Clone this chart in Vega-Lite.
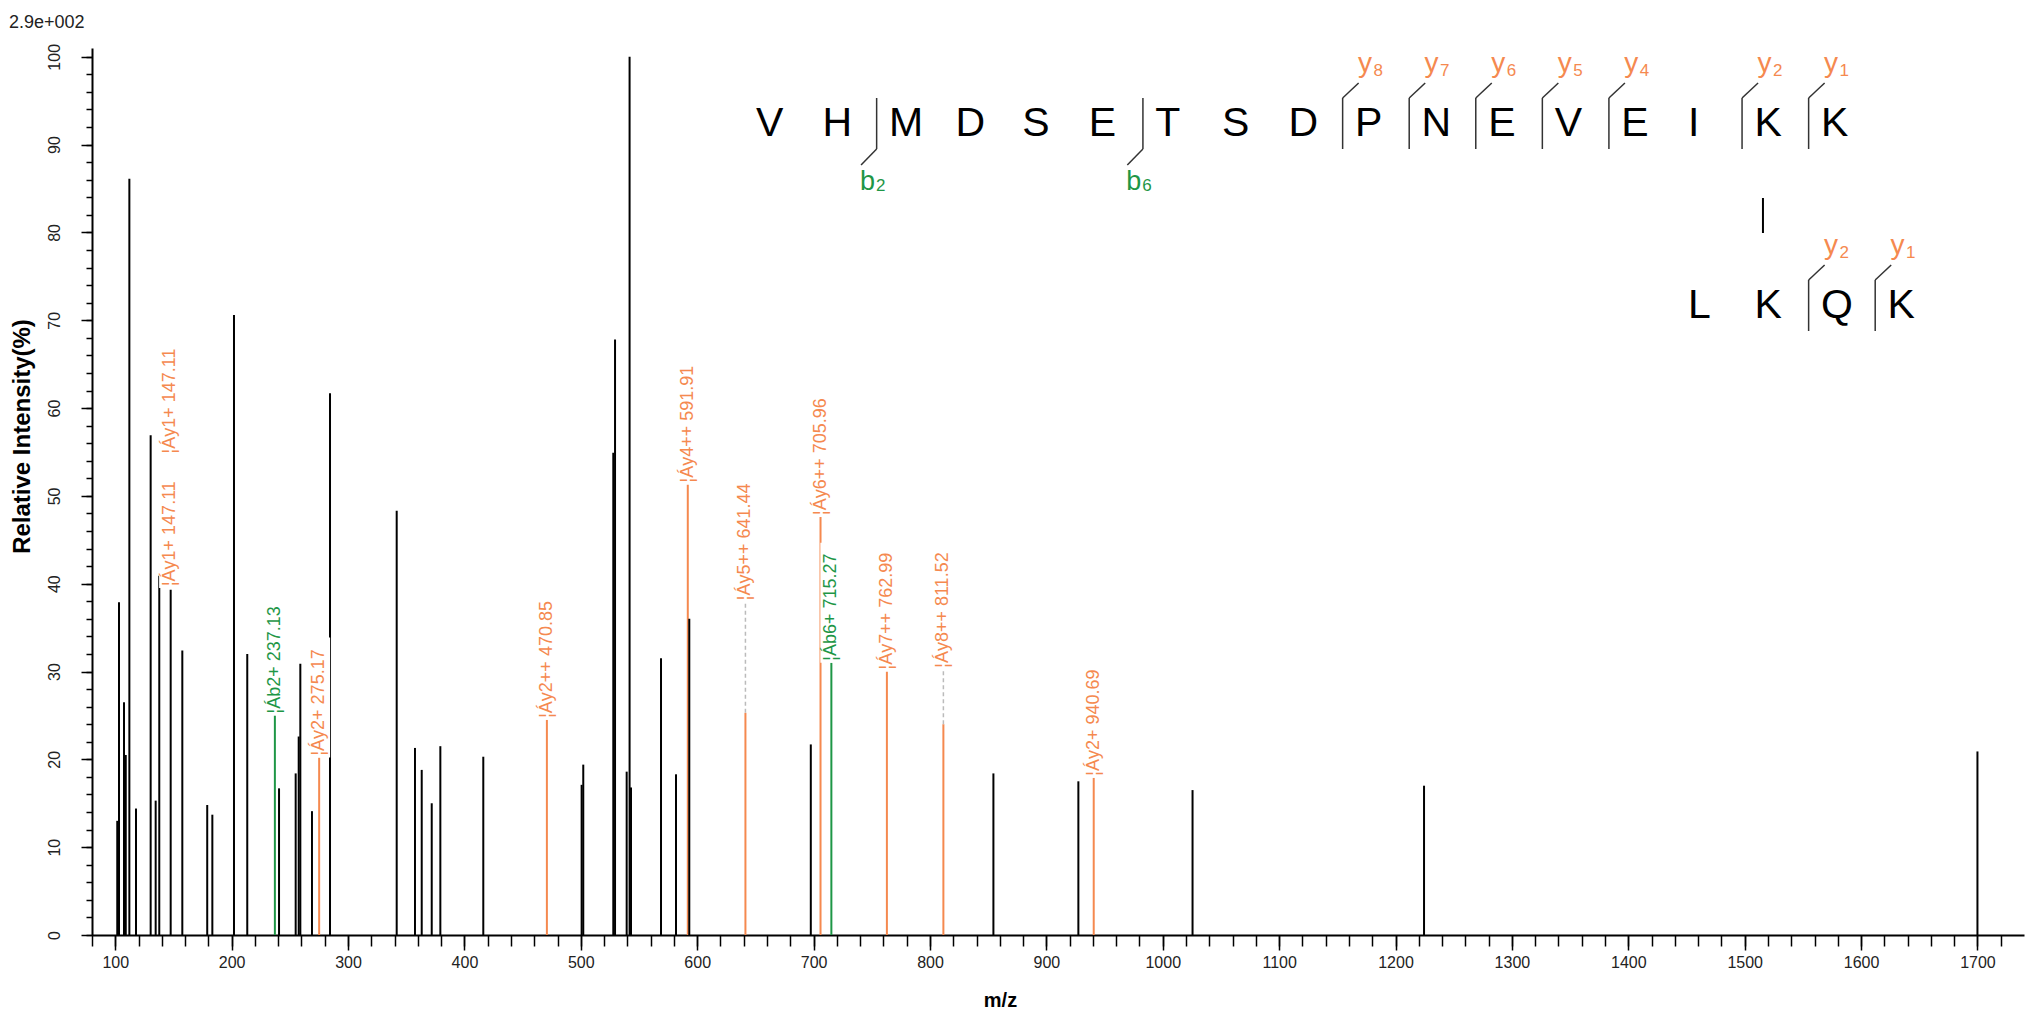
{
  "$schema": "https://vega.github.io/schema/vega-lite/v6.json",
  "width": 1932,
  "height": 887,
  "autosize": {"type": "none"},
  "padding": {"left": 92, "top": 48, "right": 4, "bottom": 78},
  "background": "white",
  "config": {"view": {"stroke": null}, "font": "Liberation Sans"},
  "title": {"text": "2.9e+002", "anchor": "start", "frame": "group", "dx": -83, "offset": 11, "fontSize": 18, "fontWeight": "normal", "font": "Liberation Sans", "color": "#222222"},
  "datasets": {
    "peaks": [
      {"mz": 101.7, "intensity": 13.0, "ion": "other"},
      {"mz": 103.2, "intensity": 37.9, "ion": "other"},
      {"mz": 107.5, "intensity": 26.5, "ion": "other"},
      {"mz": 109.0, "intensity": 20.5, "ion": "other"},
      {"mz": 112.1, "intensity": 86.1, "ion": "other"},
      {"mz": 117.8, "intensity": 14.4, "ion": "other"},
      {"mz": 130.4, "intensity": 56.9, "ion": "other"},
      {"mz": 134.7, "intensity": 15.3, "ion": "other"},
      {"mz": 137.8, "intensity": 40.9, "ion": "other"},
      {"mz": 147.6, "intensity": 39.3, "ion": "other"},
      {"mz": 157.6, "intensity": 32.4, "ion": "other"},
      {"mz": 179.0, "intensity": 14.8, "ion": "other"},
      {"mz": 183.4, "intensity": 13.7, "ion": "other"},
      {"mz": 202.0, "intensity": 70.6, "ion": "other"},
      {"mz": 213.4, "intensity": 32.0, "ion": "other"},
      {"mz": 237.13, "intensity": 25.0, "ion": "b"},
      {"mz": 240.7, "intensity": 16.7, "ion": "other"},
      {"mz": 255.0, "intensity": 18.4, "ion": "other"},
      {"mz": 257.6, "intensity": 22.6, "ion": "other"},
      {"mz": 259.0, "intensity": 30.9, "ion": "other"},
      {"mz": 269.0, "intensity": 14.1, "ion": "other"},
      {"mz": 275.17, "intensity": 20.2, "ion": "y"},
      {"mz": 284.5, "intensity": 61.7, "ion": "other"},
      {"mz": 341.8, "intensity": 48.3, "ion": "other"},
      {"mz": 357.5, "intensity": 21.3, "ion": "other"},
      {"mz": 363.3, "intensity": 18.8, "ion": "other"},
      {"mz": 371.9, "intensity": 15.0, "ion": "other"},
      {"mz": 379.3, "intensity": 21.5, "ion": "other"},
      {"mz": 416.2, "intensity": 20.3, "ion": "other"},
      {"mz": 470.85, "intensity": 24.5, "ion": "y"},
      {"mz": 500.7, "intensity": 17.1, "ion": "other"},
      {"mz": 502.1, "intensity": 19.4, "ion": "other"},
      {"mz": 527.9, "intensity": 54.9, "ion": "other"},
      {"mz": 529.4, "intensity": 67.8, "ion": "other"},
      {"mz": 539.4, "intensity": 18.6, "ion": "other"},
      {"mz": 541.9, "intensity": 100.0, "ion": "other"},
      {"mz": 543.1, "intensity": 16.8, "ion": "other"},
      {"mz": 568.9, "intensity": 31.5, "ion": "other"},
      {"mz": 581.8, "intensity": 18.3, "ion": "other"},
      {"mz": 591.91, "intensity": 51.3, "ion": "y"},
      {"mz": 593.2, "intensity": 36.0, "ion": "other"},
      {"mz": 641.44, "intensity": 25.3, "ion": "y"},
      {"mz": 697.6, "intensity": 21.7, "ion": "other"},
      {"mz": 705.96, "intensity": 47.6, "ion": "y"},
      {"mz": 715.27, "intensity": 31.0, "ion": "b"},
      {"mz": 762.99, "intensity": 30.0, "ion": "y"},
      {"mz": 811.52, "intensity": 24.0, "ion": "y"},
      {"mz": 854.5, "intensity": 18.4, "ion": "other"},
      {"mz": 927.5, "intensity": 17.5, "ion": "other"},
      {"mz": 940.69, "intensity": 17.9, "ion": "y"},
      {"mz": 1025.6, "intensity": 16.5, "ion": "other"},
      {"mz": 1224.5, "intensity": 17.0, "ion": "other"},
      {"mz": 1700.0, "intensity": 20.9, "ion": "other"}
    ],
    "labels": [
      {"mz": 147.11, "anchor": 39.5, "base": 39.5, "text": "¦Áy1+ 147.11", "ion": "y"},
      {"mz": 147.11, "anchor": 54.6, "base": 54.6, "text": "¦Áy1+ 147.11", "ion": "y"},
      {"mz": 237.13, "anchor": 25.0, "base": 25.0, "text": "¦Áb2+ 237.13", "ion": "b"},
      {"mz": 275.17, "anchor": 20.2, "base": 20.2, "text": "¦Áy2+ 275.17", "ion": "y"},
      {"mz": 470.85, "anchor": 24.5, "base": 24.5, "text": "¦Áy2++ 470.85", "ion": "y"},
      {"mz": 591.91, "anchor": 51.3, "base": 51.3, "text": "¦Áy4++ 591.91", "ion": "y"},
      {"mz": 641.44, "anchor": 25.3, "base": 37.9, "text": "¦Áy5++ 641.44", "ion": "y"},
      {"mz": 705.96, "anchor": 47.6, "base": 47.6, "text": "¦Áy6++ 705.96", "ion": "y"},
      {"mz": 715.27, "anchor": 31.0, "base": 31.0, "text": "¦Áb6+ 715.27", "ion": "b"},
      {"mz": 762.99, "anchor": 30.0, "base": 30.0, "text": "¦Áy7++ 762.99", "ion": "y"},
      {"mz": 811.52, "anchor": 24.0, "base": 30.2, "text": "¦Áy8++ 811.52", "ion": "y"},
      {"mz": 940.69, "anchor": 17.9, "base": 17.9, "text": "¦Áy2+ 940.69", "ion": "y"}
    ],
    "seq": [
      {"i": 0, "aa": "V", "row": 1}, {"i": 1, "aa": "H", "row": 1}, {"i": 2, "aa": "M", "row": 1},
      {"i": 3, "aa": "D", "row": 1}, {"i": 4, "aa": "S", "row": 1}, {"i": 5, "aa": "E", "row": 1},
      {"i": 6, "aa": "T", "row": 1}, {"i": 7, "aa": "S", "row": 1}, {"i": 8, "aa": "D", "row": 1},
      {"i": 9, "aa": "P", "row": 1}, {"i": 10, "aa": "N", "row": 1}, {"i": 11, "aa": "E", "row": 1},
      {"i": 12, "aa": "V", "row": 1}, {"i": 13, "aa": "E", "row": 1}, {"i": 14, "aa": "I", "row": 1},
      {"i": 15, "aa": "K", "row": 1}, {"i": 16, "aa": "K", "row": 1},
      {"i": 14, "aa": "L", "row": 2}, {"i": 15, "aa": "K", "row": 2}, {"i": 16, "aa": "Q", "row": 2},
      {"i": 17, "aa": "K", "row": 2}
    ],
    "ions": [
      {"i": 2, "ion": "b", "n": 2, "row": 1},
      {"i": 6, "ion": "b", "n": 6, "row": 1},
      {"i": 9, "ion": "y", "n": 8, "row": 1},
      {"i": 10, "ion": "y", "n": 7, "row": 1},
      {"i": 11, "ion": "y", "n": 6, "row": 1},
      {"i": 12, "ion": "y", "n": 5, "row": 1},
      {"i": 13, "ion": "y", "n": 4, "row": 1},
      {"i": 15, "ion": "y", "n": 2, "row": 1},
      {"i": 16, "ion": "y", "n": 1, "row": 1},
      {"i": 16, "ion": "y", "n": 2, "row": 2},
      {"i": 17, "ion": "y", "n": 1, "row": 2}
    ]
  },
  "layer": [
    {
      "layer": [
        {
          "data": {"name": "peaks"},
          "mark": {"type": "rule", "strokeWidth": 2},
          "encoding": {
            "x": {"field": "mz", "type": "quantitative",
              "scale": {"domain": [80, 1740], "nice": false, "zero": false},
              "axis": {"orient": "bottom", "values": [100, 200, 300, 400, 500, 600, 700, 800, 900, 1000, 1100, 1200, 1300, 1400, 1500, 1600, 1700],
                "format": "d",
                "tickSize": 15, "tickWidth": 1.5, "tickColor": "#000000", "domainColor": "#000000", "domainWidth": 2,
                "labelFontSize": 16, "labelFont": "Liberation Sans", "labelColor": "#222222", "labelPadding": 4,
                "labelFlush": false, "labelOverlap": false, "grid": false,
                "title": "m/z", "titleFont": "Liberation Sans", "titleFontSize": 20, "titleFontWeight": "bold", "titleColor": "#000000",
                "titleX": 908, "titleY": 65, "titleAlign": "center", "titleBaseline": "middle"}},
            "y": {"field": "intensity", "type": "quantitative",
              "scale": {"domain": [0, 101], "nice": false, "zero": false},
              "axis": {"orient": "left", "values": [0, 10, 20, 30, 40, 50, 60, 70, 80, 90, 100],
                "tickSize": 11, "tickWidth": 1.5, "tickColor": "#000000", "domainColor": "#000000", "domainWidth": 2,
                "labelAngle": 270, "labelAlign": "center", "labelBaseline": "alphabetic", "labelPadding": 22,
                "labelFontSize": 16, "labelFont": "Liberation Sans", "labelColor": "#222222", "labelOverlap": false, "grid": false,
                "title": "Relative  Intensity(%)", "titleFont": "Liberation Sans", "titleFontSize": 24, "titleFontWeight": "bold", "titleColor": "#000000",
                "titleAngle": 270, "titleX": -70, "titleY": 388, "titleAlign": "center", "titleBaseline": "middle"}},
            "y2": {"datum": 0},
            "color": {"field": "ion", "type": "nominal",
              "scale": {"domain": ["other", "y", "b"], "range": ["#000000", "#F5894F", "#1E9646"]}, "legend": null}
          }
        },
        {
          "data": {"name": "labels"},
          "transform": [{"filter": "datum.base > datum.anchor + 0.5"}],
          "mark": {"type": "rule", "strokeWidth": 1.5, "strokeDash": [4, 3], "color": "#BBBBBB"},
          "encoding": {
            "x": {"field": "mz", "type": "quantitative",
              "axis": {"orient": "bottom", "values": [80, 100, 120, 140, 160, 180, 200, 220, 240, 260, 280, 300, 320, 340, 360, 380, 400, 420, 440, 460, 480, 500, 520, 540, 560, 580, 600, 620, 640, 660, 680, 700, 720, 740, 760, 780, 800, 820, 840, 860, 880, 900, 920, 940, 960, 980, 1000, 1020, 1040, 1060, 1080, 1100, 1120, 1140, 1160, 1180, 1200, 1220, 1240, 1260, 1280, 1300, 1320, 1340, 1360, 1380, 1400, 1420, 1440, 1460, 1480, 1500, 1520, 1540, 1560, 1580, 1600, 1620, 1640, 1660, 1680, 1700, 1720],
                "tickSize": 11, "tickWidth": 1.5, "tickColor": "#000000", "domain": false, "labels": false, "grid": false, "title": null}},
            "y": {"field": "anchor", "type": "quantitative",
              "axis": {"orient": "left", "values": [0, 2, 4, 6, 8, 10, 12, 14, 16, 18, 20, 22, 24, 26, 28, 30, 32, 34, 36, 38, 40, 42, 44, 46, 48, 50, 52, 54, 56, 58, 60, 62, 64, 66, 68, 70, 72, 74, 76, 78, 80, 82, 84, 86, 88, 90, 92, 94, 96, 98, 100],
                "tickSize": 6, "tickWidth": 1.5, "tickColor": "#000000", "domain": false, "labels": false, "grid": false, "title": null}},
            "y2": {"field": "base"}
          }
        },
        {
          "data": {"name": "labels"},
          "mark": {"type": "rect", "color": "#FFFFFF", "xOffset": -11, "x2Offset": 11, "y2Offset": -120},
          "encoding": {
            "x": {"field": "mz", "type": "quantitative", "axis": null},
            "x2": {"field": "mz"},
            "y": {"field": "base", "type": "quantitative", "axis": null},
            "y2": {"field": "base"}
          }
        },
        {
          "data": {"name": "labels"},
          "mark": {"type": "text", "angle": 270, "align": "left", "baseline": "middle", "fontSize": 18, "font": "Liberation Sans", "dx": 2},
          "encoding": {
            "x": {"field": "mz", "type": "quantitative", "axis": null},
            "y": {"field": "base", "type": "quantitative", "axis": null},
            "text": {"field": "text"},
            "color": {"field": "ion", "type": "nominal", "legend": null}
          }
        }
      ],
      "resolve": {"axis": {"x": "independent", "y": "independent"}}
    },
    {
      "encoding": {
        "x": {"field": "i", "type": "quantitative", "axis": null,
          "scale": {"domain": [-9.973, 19.049], "nice": false, "zero": false}},
        "y": {"field": "row", "type": "quantitative", "axis": null,
          "scale": {"domain": [0.51648, 5.39011], "reverse": true, "nice": false, "zero": false}}
      },
      "layer": [
        {
          "data": {"name": "seq"},
          "mark": {"type": "text", "align": "left", "baseline": "alphabetic", "fontSize": 41, "font": "Liberation Sans", "color": "#000000"},
          "encoding": {"text": {"field": "aa"}}
        },
        {
          "data": {"name": "ions"},
          "mark": {"type": "rule", "color": "#333333", "strokeWidth": 1.5, "xOffset": -12.4, "yOffset": -38, "y2Offset": 13},
          "encoding": {"y2": {"field": "row"}}
        },
        {
          "data": {"name": "ions"},
          "transform": [{"filter": "datum.ion == 'y'"}],
          "mark": {"type": "rule", "color": "#333333", "strokeWidth": 1.5, "xOffset": -12.4, "x2Offset": 3.6, "yOffset": -38, "y2Offset": -53},
          "encoding": {"x2": {"field": "i"}, "y2": {"field": "row"}}
        },
        {
          "data": {"name": "ions"},
          "transform": [{"filter": "datum.ion == 'b'"}],
          "mark": {"type": "rule", "color": "#333333", "strokeWidth": 1.5, "xOffset": -12.4, "x2Offset": -28, "yOffset": 13, "y2Offset": 29},
          "encoding": {"x2": {"field": "i"}, "y2": {"field": "row"}}
        },
        {
          "data": {"name": "ions"},
          "transform": [{"filter": "datum.ion == 'y'"}],
          "mark": {"type": "text", "align": "left", "baseline": "alphabetic", "fontSize": 28, "font": "Liberation Sans", "color": "#F5894F", "dx": 3, "dy": -64},
          "encoding": {"text": {"value": "y"}}
        },
        {
          "data": {"name": "ions"},
          "transform": [{"filter": "datum.ion == 'y'"}],
          "mark": {"type": "text", "align": "left", "baseline": "alphabetic", "fontSize": 17, "font": "Liberation Sans", "color": "#F5894F", "dx": 18.5, "dy": -60},
          "encoding": {"text": {"field": "n"}}
        },
        {
          "data": {"name": "ions"},
          "transform": [{"filter": "datum.ion == 'b'"}],
          "mark": {"type": "text", "align": "left", "baseline": "alphabetic", "fontSize": 27, "font": "Liberation Sans", "color": "#1E9646", "dx": -29, "dy": 54},
          "encoding": {"text": {"value": "b"}}
        },
        {
          "data": {"name": "ions"},
          "transform": [{"filter": "datum.ion == 'b'"}],
          "mark": {"type": "text", "align": "left", "baseline": "alphabetic", "fontSize": 17, "font": "Liberation Sans", "color": "#1E9646", "dx": -13, "dy": 55},
          "encoding": {"text": {"field": "n"}}
        },
        {
          "data": {"name": "seq"},
          "transform": [{"filter": "datum.i == 15 && datum.row == 1"}],
          "mark": {"type": "rule", "color": "#000000", "strokeWidth": 2, "xOffset": 8.5, "yOffset": 62, "y2Offset": 97},
          "encoding": {"y2": {"field": "row"}}
        }
      ]
    }
  ],
  "resolve": {"scale": {"x": "independent", "y": "independent"}}
}
